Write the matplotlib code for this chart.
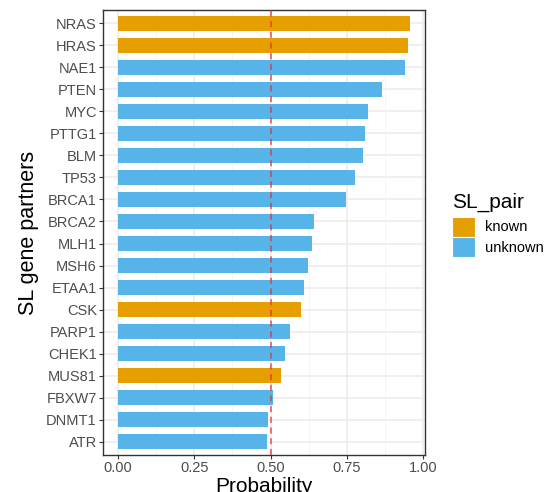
import numpy as np
import matplotlib.pyplot as plt
from matplotlib.patches import Patch
from matplotlib.ticker import MultipleLocator

plt.rcParams['font.family'] = ['Liberation Sans', 'DejaVu Sans']

genes = ["NRAS", "HRAS", "NAE1", "PTEN", "MYC", "PTTG1", "BLM", "TP53", "BRCA1", "BRCA2",
         "MLH1", "MSH6", "ETAA1", "CSK", "PARP1", "CHEK1", "MUS81", "FBXW7", "DNMT1", "ATR"]
prob = [0.957, 0.951, 0.941, 0.866, 0.820, 0.810, 0.801, 0.775, 0.748, 0.641,
        0.637, 0.624, 0.608, 0.601, 0.562, 0.546, 0.533, 0.507, 0.493, 0.487]
sl_pair = ["known", "known", "unknown", "unknown", "unknown", "unknown", "unknown", "unknown",
           "unknown", "unknown", "unknown", "unknown", "unknown", "known", "unknown", "unknown",
           "known", "unknown", "unknown", "unknown"]
colors = {"known": "#E69F00", "unknown": "#56B4E9"}

fig = plt.figure(figsize=(5.52, 4.92), dpi=100)
ax = fig.add_axes([103/552, 1-455/492, 322/552, 445/492])

y = np.arange(len(genes))[::-1]
ax.barh(y, prob, height=0.7, color=[colors[s] for s in sl_pair], zorder=2)
ax.axvline(0.5, color="#E8303A", linestyle=(0, (4, 3)), linewidth=1.1, alpha=0.85, zorder=3)

ax.set_xlim(-0.048, 1.005)
ax.set_ylim(-0.6, len(genes) - 0.4)
ax.set_yticks(y)
ax.set_yticklabels(genes)
ax.set_xticks([0, 0.25, 0.5, 0.75, 1.0])
ax.set_xticklabels(["0.00", "0.25", "0.50", "0.75", "1.00"])
ax.xaxis.set_minor_locator(MultipleLocator(0.125))

ax.grid(True, which="major", color="#EBEBEB", linewidth=1.1, zorder=0)
ax.grid(True, which="minor", axis="x", color="#F2F2F2", linewidth=0.6, zorder=0)
ax.set_axisbelow(True)
for s in ax.spines.values():
    s.set_color("#333333")
    s.set_linewidth(1.0)
ax.tick_params(which="major", length=3, width=0.8, color="#333333",
               labelsize=10.5, labelcolor="#4D4D4D", pad=1.5)
ax.tick_params(which="minor", length=0)

ax.set_xlabel("Probability", fontsize=15, labelpad=1)
ax.set_ylabel("SL gene partners", fontsize=15.5, labelpad=5)

handles = [Patch(facecolor=colors[k], edgecolor="white", linewidth=0.8, label=k)
           for k in ["known", "unknown"]]
leg = fig.legend(handles=handles, title="SL_pair", loc="upper left",
                 bbox_to_anchor=(439/552, 1-180/492), frameon=False,
                 fontsize=10.5, title_fontsize=15, handlelength=1.6, handleheight=1.75,
                 handletextpad=0.65, labelspacing=0.0, borderaxespad=0.5)
leg._legend_box.align = "left"
leg._legend_box.sep = 3

fig.savefig("out.png", dpi=100)
